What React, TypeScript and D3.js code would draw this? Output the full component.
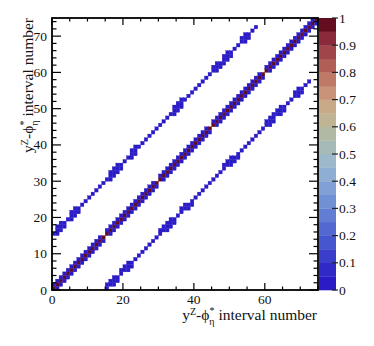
import React from 'react';
import * as d3 from 'd3';

// 75 bins = 5 y^Z bins x 15 phi* bins
const nBins = 75;

// correlation of bin i with bin i+1 (i = 0..73), zero across y^Z block edges
const nbrCorr = [
  0.04, 0.03, 0.03, 0.02, 0.03, 0.03, 0.02, 0.03, 0.02, 0.02, 0.03, 0.02, 0.02, 0.03, 0,
  0.03, 0.04, 0.03, 0.03, 0.02, 0.03, 0.02, 0.02, 0.03, 0.02, 0.03, 0.02, 0.02, 0.03, 0,
  0.03, 0.03, 0.04, 0.03, 0.02, 0.02, 0.03, 0.02, 0.03, 0.02, 0.02, 0.03, 0.02, 0.03, 0,
  0.04, 0.03, 0.03, 0.03, 0.02, 0.03, 0.02, 0.03, 0.02, 0.02, 0.03, 0.02, 0.03, 0.02, 0,
  0.03, 0.03, 0.02, 0.03, 0.03, 0.02, 0.03, 0.02, 0.02, 0.03, 0.02, 0.03, 0.02, 0.03,
];

// correlation of bin i with bin i+15 (i = 0..59)
const crossCorr = [
  0.02, 0.03, 0.03, 0.02, 0.02, 0.03, 0.02, 0.02, 0.01, 0.02, 0.02, 0.01, 0.02, 0.01, 0.02,
  0.02, 0.03, 0.03, 0.03, 0.02, 0.02, 0.02, 0.03, 0.02, 0.01, 0.02, 0.02, 0.01, 0.02, 0.02,
  0.02, 0.02, 0.02, 0.03, 0.03, 0.03, 0.02, 0.02, 0.01, 0.02, 0.01, 0.02, 0.02, 0.01, 0.02,
  0.03, 0.03, 0.02, 0.03, 0.03, 0.02, 0.02, 0.02, 0.03, 0.03, 0.02, 0.01, 0.02, 0, 0,
];

// extra cells beside the +15 band (upper triangle: [x, y, value])
const crossExtra = [
  [1, 15, 0.02], [2, 16, 0.02], [3, 17, 0.02], [1, 17, 0.02], [2, 18, 0.02],
  [5, 19, 0.02], [6, 20, 0.02], [7, 21, 0.02], [5, 21, 0.02], [6, 22, 0.02],
  [16, 30, 0.02], [17, 31, 0.02], [18, 32, 0.02], [19, 33, 0.02],
  [16, 32, 0.02], [17, 33, 0.02], [18, 34, 0.02],
  [22, 36, 0.02], [23, 37, 0.02], [22, 38, 0.02], [23, 39, 0.02],
  [34, 48, 0.02], [35, 49, 0.02], [36, 50, 0.02], [34, 50, 0.02], [35, 51, 0.02], [36, 52, 0.02],
  [46, 60, 0.02], [47, 61, 0.02], [45, 61, 0.02], [46, 62, 0.02],
  [48, 62, 0.02], [49, 63, 0.02], [50, 64, 0.02], [48, 64, 0.02], [49, 65, 0.02],
  [54, 68, 0.02], [55, 69, 0.02], [53, 69, 0.02], [54, 70, 0.02],
];

const palette = [
  '#2a1bc6', '#3128c8', '#3a3ecb', '#4656ce', '#5369d1', '#617ed3', '#7090d5', '#80a0d6', '#8faed4', '#9db7cb',
  '#a6bbb8', '#b1b9a4', '#bfb595', '#c9aa88', '#c9937a', '#bf7967', '#b15e57', '#a0454a', '#8a2a3a', '#650d20',
];

const xTicks = [0, 20, 40, 60];
const yTicks = [0, 10, 20, 30, 40, 50, 60, 70];
const zTicks = [0, 0.1, 0.2, 0.3, 0.4, 0.5, 0.6, 0.7, 0.8, 0.9, 1];

const serif = { fontFamily: "'Liberation Serif', 'Times New Roman', serif" };

export default function App() {
  const left = 52, right = 318, top = 18, bottom = 290;
  const x = d3.scaleLinear().domain([0, nBins]).range([left, right]);
  const y = d3.scaleLinear().domain([0, nBins]).range([bottom, top]);
  const z = d3.scaleLinear().domain([0, 1]).range([bottom, top]);
  const color = d3.scaleQuantize<string>().domain([0, 1]).range(palette);

  // build symmetric matrix cells
  const cells: { i: number; j: number; v: number }[] = [];
  const add = (i: number, j: number, v: number) => {
    if (v <= 0) return;
    cells.push({ i, j, v });
    if (i !== j) cells.push({ i: j, j: i, v });
  };
  for (let i = 0; i < nBins; i++) add(i, i, 1);
  nbrCorr.forEach((v, i) => add(i, i + 1, v));
  crossCorr.forEach((v, i) => add(i, i + 15, v));
  crossExtra.forEach(([i, j, v]) => add(i, j, v));

  const xMinor = d3.range(0, nBins + 1, 5);
  const yMinor = d3.range(0, nBins + 1, 2);

  const title = (
    <>
      <tspan>y</tspan>
      <tspan fontSize={10} dy={-5}>Z</tspan>
      <tspan dy={5}>-ϕ</tspan>
      <tspan fontSize={10} dy={5}>η</tspan>
      <tspan fontSize={10} dx={-5} dy={-11}>*</tspan>
      <tspan dy={6}> interval number</tspan>
    </>
  );

  return (
    <svg width={374} height={346} style={{ position: 'absolute', left: 0, top: 0, ...serif }}>
      <rect width={374} height={346} fill="white" />
      <g>
        {cells.map((c, k) => (
          <rect
            key={k}
            x={x(c.i)}
            y={y(c.j + 1)}
            width={x(c.i + 1) - x(c.i)}
            height={y(c.j) - y(c.j + 1)}
            fill={color(Math.min(c.v, 0.9999))}
            stroke={color(Math.min(c.v, 0.9999))}
            strokeWidth={0.3}
          />
        ))}
      </g>

      {/* ticks */}
      <g stroke="black" strokeWidth={1.2}>
        {xMinor.map(t => {
          const len = t % 20 === 0 ? 7 : 3.5;
          return (
            <g key={'x' + t}>
              <line x1={x(t)} x2={x(t)} y1={bottom} y2={bottom - len} />
              <line x1={x(t)} x2={x(t)} y1={top} y2={top + len} />
            </g>
          );
        })}
        {yMinor.map(t => {
          const len = t % 10 === 0 ? 9 : 4.5;
          return (
            <g key={'y' + t}>
              <line x1={left} x2={left + len} y1={y(t)} y2={y(t)} />
              <line x1={right} x2={right - len} y1={y(t)} y2={y(t)} />
            </g>
          );
        })}
      </g>
      <rect x={left} y={top} width={right - left} height={bottom - top} fill="none" stroke="black" strokeWidth={1.8} />

      {/* tick labels */}
      <g fontSize={13.5} fill="#111">
        {xTicks.map(t => (
          <text key={t} x={x(t)} y={303.5} textAnchor="middle" style={serif}>{t}</text>
        ))}
        {yTicks.map(t => (
          <text key={t} x={47} y={y(t) + 4.5} textAnchor="end" style={serif}>{t}</text>
        ))}
      </g>

      {/* axis titles */}
      <text x={317} y={320} fontSize={15.5} textAnchor="end" fill="#111" style={serif}>{title}</text>
      <text transform={`translate(33,${top}) rotate(-90)`} fontSize={15.5} textAnchor="end" fill="#111" style={serif}>{title}</text>

      {/* palette */}
      <g>
        {palette.map((c, k) => (
          <rect key={k} x={319} y={z((k + 1) / 20)} width={17} height={z(k / 20) - z((k + 1) / 20) + 0.3} fill={c} />
        ))}
      </g>
      <g stroke="#222" strokeWidth={1.2}>
        {zTicks.map(t => (
          <line key={t} x1={332} x2={338} y1={z(t)} y2={z(t)} />
        ))}
      </g>
      <g fontSize={13.5} fill="#111">
        {zTicks.map(t => (
          <text key={t} x={339} y={z(t) + 4.5} style={serif}>{t === 0 || t === 1 ? t : t.toFixed(1)}</text>
        ))}
      </g>
    </svg>
  );
}
